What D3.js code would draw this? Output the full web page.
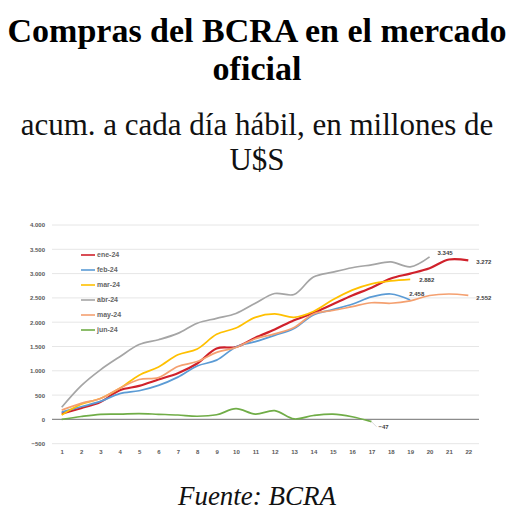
<!DOCTYPE html>
<html>
<head>
<meta charset="utf-8">
<script src="https://cdn.jsdelivr.net/npm/d3@7"></script>
<style>
  body { margin: 0; background: #fff; }
  svg { display: block; }
</style>
</head>
<body>
<div id="canvas"></div>
<script>
// Días hábiles y compras acumuladas (millones de U$S)
const days = d3.range(1, 23);
const seriesNames = ["ene-24", "feb-24", "mar-24", "abr-24", "may-24", "jun-24"];
const ene24 = [120, 230, 360, 600, 690, 820, 950, 1150, 1460, 1490, 1680, 1850, 2040, 2190, 2370, 2550, 2710, 2900, 3000, 3110, 3290, 3272];
const feb24 = [150, 260, 370, 530, 590, 700, 870, 1100, 1220, 1490, 1600, 1730, 1870, 2150, 2260, 2370, 2520, 2580, 2458];
const mar24 = [90, 310, 430, 640, 910, 1080, 1330, 1450, 1750, 1880, 2100, 2170, 2100, 2220, 2460, 2660, 2790, 2850, 2882];
const abr24 = [250, 690, 1020, 1290, 1540, 1640, 1770, 1980, 2080, 2180, 2390, 2590, 2570, 2930, 3030, 3120, 3180, 3240, 3140, 3345];
const may24 = [190, 330, 430, 640, 820, 860, 1090, 1190, 1380, 1480, 1660, 1760, 1890, 2170, 2240, 2320, 2400, 2390, 2440, 2550, 2580, 2552];
const jun24 = [0, 60, 105, 110, 120, 105, 90, 65, 95, 220, 110, 180, 10, 80, 110, 55, -47];
const yTicks = [-500, 0, 500, 1000, 1500, 2000, 2500, 3000, 3500, 4000];

const width = 517, height = 513;
const colors = ["#d0212b", "#5b9bd5", "#ffc000", "#a5a5a5", "#f4a070", "#70ad47"];
// desplazamiento de la etiqueta del último valor
const labelOffsets = [[8, 2], [-1, -6], [9, 1], [8, -4], [8, 3], [7, 5]];

const es = d3.formatLocale({decimal: ",", thousands: ".", grouping: [3], currency: ["$", ""]});
const fmt = es.format(",d");

const allSeries = [ene24, feb24, mar24, abr24, may24, jun24];
const serif = "Liberation Serif";
const sans = "Liberation Sans";

const svg = d3.select('#canvas').append('svg')
    .attr('width', width)
    .attr('height', height)
    .style('background', '#fff');

// Títulos
const titles = [
    {t: 'Compras del BCRA en el mercado', y: 42, size: 34, w: 'bold', s: 'normal'},
    {t: 'oficial', y: 80, size: 34, w: 'bold', s: 'normal'},
    {t: 'acum. a cada día hábil, en millones de', y: 135, size: 31, w: 'normal', s: 'normal'},
    {t: 'U$S', y: 170, size: 31, w: 'normal', s: 'normal'},
    {t: 'Fuente: BCRA', y: 505, size: 27, w: 'normal', s: 'italic'}
];
svg.selectAll('text.titulo').data(titles)
    .enter().append('text')
        .attr('class', 'titulo')
        .attr('x', 257).attr('y', d => d.y)
        .attr('text-anchor', 'middle')
        .attr('font-family', serif)
        .attr('font-size', d => d.size)
        .attr('font-weight', d => d.w)
        .attr('font-style', d => d.s)
        .attr('fill', (d, i) => i < 2 ? '#000' : '#111')
        .text(d => d.t);

let xScale = d3.scaleLinear()
    .domain([1, 22])
    .range([61.7, 468.3]);

let yScale = d3.scaleLinear()
    .domain([-500, 4000])
    .range([443.7, 225]);

const plot = svg.append('g');

// Grilla
plot.selectAll('line.grid').data(yTicks)
    .enter().append('line')
        .attr('class', 'grid')
        .attr('x1', 52).attr('x2', 479)
        .attr('y1', d => yScale(d)).attr('y2', d => yScale(d))
        .attr('stroke', d => d === 0 ? '#8c8c8c' : '#e6e6e6')
        .attr('stroke-width', d => d === 0 ? 1.2 : 1);

// Eje Y
const yAxis = d3.axisLeft(yScale).tickValues(yTicks).tickSize(0).tickPadding(0).tickFormat(fmt);
plot.append('g')
    .attr('transform', 'translate(45,0)')
    .call(yAxis)
    .call(g => g.select('.domain').remove())
    .attr('font-family', sans).attr('font-size', 6).attr('font-weight', 'bold')
    .selectAll('text').attr('fill', '#595959');

// Eje X
const xAxis = d3.axisBottom(xScale).tickValues(days).tickSize(0).tickPadding(0).tickFormat(d3.format('d'));
plot.append('g')
    .attr('transform', 'translate(0,450)')
    .call(xAxis)
    .call(g => g.select('.domain').remove())
    .attr('font-family', sans).attr('font-size', 6).attr('font-weight', 'bold')
    .selectAll('text').attr('fill', '#595959');

// Líneas
const line = d3.line()
    .x((d, i) => xScale(i + 1))
    .y(d => yScale(d))
    .curve(d3.curveCatmullRom.alpha(0.5));

plot.selectAll('path.serie').data(allSeries)
    .enter().append('path')
        .attr('class', 'serie')
        .attr('d', d => line(d))
        .attr('fill', 'none')
        .attr('stroke', (d, i) => colors[i])
        .attr('stroke-width', (d, i) => i === 0 ? 2.2 : 1.7)
        .attr('stroke-linejoin', 'round');

// Etiquetas del último valor
plot.selectAll('text.last').data(allSeries)
    .enter().append('text')
        .attr('class', 'last')
        .attr('x', (d, i) => xScale(d.length) + labelOffsets[i][0])
        .attr('y', (d, i) => yScale(d[d.length - 1]) + labelOffsets[i][1])
        .attr('dy', '0.35em')
        .attr('font-family', sans).attr('font-size', 6).attr('font-weight', 'bold')
        .attr('fill', '#404040')
        .text(d => fmt(d[d.length - 1]));

// línea guía de -47
plot.append('line')
    .attr('x1', xScale(jun24.length)).attr('y1', yScale(jun24[jun24.length - 1]))
    .attr('x2', xScale(jun24.length) + 5).attr('y2', yScale(jun24[jun24.length - 1]) + 5)
    .attr('stroke', '#bfbfbf').attr('stroke-width', 0.6);

// Leyenda
const legend = plot.selectAll('g.legend').data(seriesNames)
    .enter().append('g')
        .attr('class', 'legend')
        .attr('transform', (d, i) => 'translate(81,' + (255 + i * 15) + ')');
legend.append('line')
    .attr('x1', 0).attr('x2', 14)
    .attr('stroke', (d, i) => colors[i]).attr('stroke-width', 1.6);
legend.append('text')
    .attr('x', 16).attr('dy', '0.35em')
    .attr('font-family', sans).attr('font-size', 7).attr('font-weight', 'bold')
    .attr('fill', '#666')
    .text(d => d);
</script>
</body>
</html>
